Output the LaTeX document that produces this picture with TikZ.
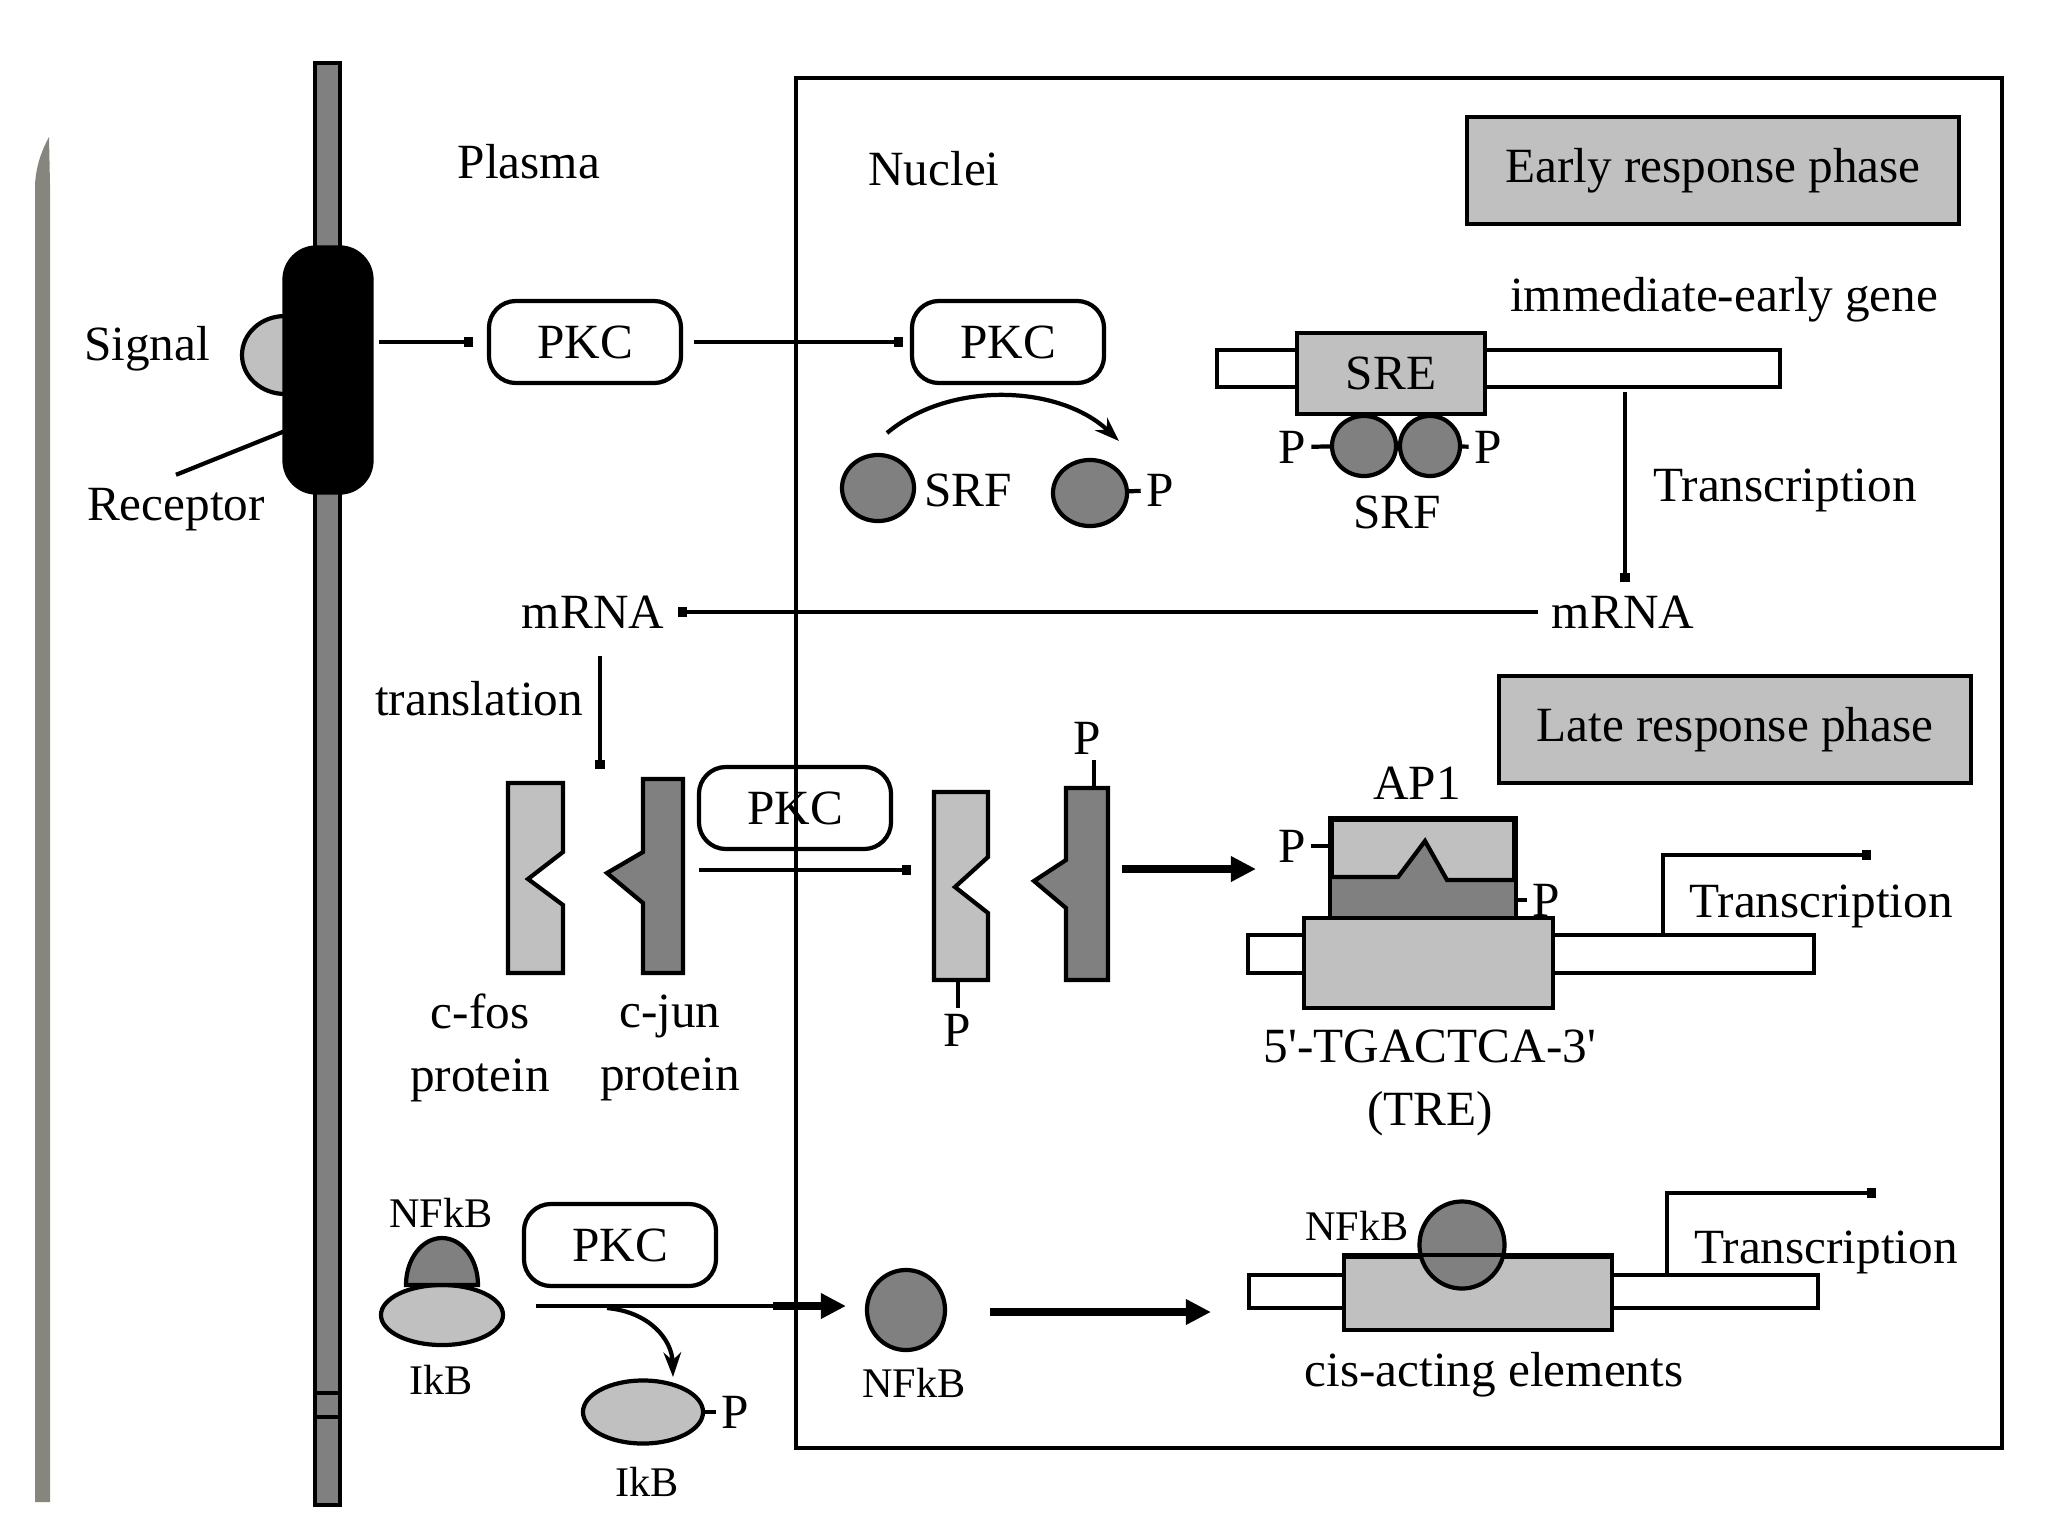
\documentclass[tikz,border=0pt]{standalone}
\usepackage{fontspec}
\setmainfont{Liberation Serif}
\usetikzlibrary{arrows.meta,shapes.geometric}
\definecolor{lgray}{HTML}{C0C0C0}
\definecolor{dgray}{HTML}{808080}
\definecolor{edgegray}{HTML}{86867F}
\begin{document}
\begin{tikzpicture}[>={Square[length=2.6pt,width=2.6pt]},x=0.01cm,y=-0.01cm,line width=1.2pt,
	every node/.style={font=\fontsize{14}{18}\selectfont},
	small/.style={font=\fontsize{12}{14}\selectfont},
	pkcbox/.style={draw,rounded corners=0.27cm,minimum width=1.92cm,minimum height=0.82cm},
	pale/.style={draw,fill=lgray},
	dark/.style={draw,fill=dgray},
	ptag/.style={inner sep=1pt},
	fat/.style={line width=2.5pt,-{Triangle[length=0.25cm,width=0.24cm]}},
	bent/.style={-{Stealth[length=7pt,width=5pt]}}]
		\useasboundingbox (0,0) rectangle (2048,1536);
		\fill[edgegray] (35,1502) -- (35,185) .. controls (36,165) and (42,150) .. (49,137) -- (50,185) -- (50,1502) -- cycle;
		\draw[fill=dgray] (315,63) rectangle (340,1505);
		\draw (315,1393) -- (340,1393) (315,1417) -- (340,1417);
		\draw[fill=lgray] (285,355) ellipse [x radius=43,y radius=39];
		\node[draw,fill=black,rounded corners=0.32cm,minimum width=0.87cm,minimum height=2.45cm] (rec) at (328,370) {};
		\node (sig) at (147,349) {Signal};
		\node (rcp) at (176,510) {Receptor};
		\coordinate (rcpin) at (285,431);
		\draw (rcp.north) -- (rcpin);
		\node (plasma) at (529,162) {Plasma};
		\node (nuclei) at (934,169) {Nuclei};
		\node[pkcbox] (pkcA) at (585,342) {PKC};
		\node[pkcbox] (pkcB) at (1008,342) {PKC};
		\draw[->,shorten <=1.5pt,shorten >=4pt] (pkcA.west -| rec.east) -- (pkcA.west);
		\draw[->,shorten <=3pt,shorten >=2pt] (pkcA) -- (pkcB);
		\coordinate (cvA) at (887,433);
		\coordinate (cvB) at (1119,441);
		\draw[bent] (cvA) .. controls (950,380) and (1060,385) .. (cvB);
		\node[dark,ellipse,minimum width=0.72cm,minimum height=0.66cm] (srfA) at (878,488) {};
		\node (srfAL) at (968,490) {SRF};
		\node[dark,ellipse,minimum width=0.74cm,minimum height=0.66cm] (srfB) at (1090,493) {};
		\node[ptag] (pB) at (1160,490) {P};
		\draw (srfB) -- (pB);
		\draw[fill=white] (1217,350) rectangle (1780,387);
		\node[pale,minimum width=1.88cm,minimum height=0.81cm] (sre) at (1391,373.5) {SRE};
		\node[dark,ellipse,minimum width=0.64cm,minimum height=0.6cm] (dmA) at (1364,446) {};
		\node[dark,ellipse,minimum width=0.6cm,minimum height=0.6cm] (dmB) at (1430,446) {};
		\node[ptag] (pC) at (1292,447) {P};
		\node[ptag] (pD) at (1488,447) {P};
		\draw (pC) -- (dmA);
		\draw (dmB) -- (pD);
		\node (srfM) at (1397,512) {SRF};
		\node (ieg) at (1724,300) {immediate-early gene};
		\node[pale,minimum width=4.92cm,minimum height=1.07cm] (early) at (1713,170.5) {Early response phase};
		\coordinate (tsA) at (1625,392);
		\node (mrnaR) at (1623,612) {mRNA};
		\node (tsL) at (1785,490) {Transcription};
		\draw[->] (tsA) -- (mrnaR.north -| tsA);
		\node (mrnaL) at (593,612) {mRNA};
		\draw[->] (mrnaR.west) -- (mrnaL.east);
		\node (trl) at (479,699) {translation};
		\coordinate (trlA) at (600,656);
		\coordinate (trlB) at (600,769);
		\draw[->] (trlA) -- (trlB);
		\draw[fill=lgray] (508,783) -- (563,783) -- (563,852) -- (528,879) -- (563,905) -- (563,973) -- (508,973) -- cycle;
		\draw[fill=dgray] (643,779) -- (683,779) -- (683,973) -- (643,973) -- (643,903) -- (607,873) -- (643,852) -- cycle;
		\node[align=center] (fosL) at (480,1048) {c-fos\\protein};
		\node[align=center] (junL) at (670,1048) {c-jun\\protein};
		\node[pkcbox] (pkcC) at (795,808) {PKC};
		\coordinate (phA) at (699,870);
		\coordinate (phB) at (911,870);
		\draw[->] (phA) -- (phB);
		\draw[fill=lgray] (934,792) -- (988,792) -- (988,857) -- (955,887) -- (988,913) -- (988,980) -- (934,980) -- cycle;
		\coordinate (pfosB) at (958,980);
		\node[ptag] (pE) at (957,1030) {P};
		\draw (pfosB) -- (pE.north -| pfosB);
		\draw[fill=dgray] (1066,788) -- (1108,788) -- (1108,980) -- (1066,980) -- (1066,908) -- (1034,881) -- (1066,860) -- cycle;
		\coordinate (pjunT) at (1094,788);
		\node[ptag] (pF) at (1087,738) {P};
		\draw (pjunT) -- (pF.south -| pjunT);
		\coordinate (apA) at (1122,869);
		\coordinate (apB) at (1256,869);
		\draw[fat] (apA) -- (apB);
		\node[pale,minimum width=4.72cm,minimum height=1.07cm] (late) at (1735,729.5) {Late response phase};
		\node (ap1) at (1417,783) {AP1};
		\node[pale,minimum width=1.82cm,minimum height=0.97cm] (apbox) at (1423,868.5) {};
		\fill[dgray] (1332,877) -- (1398,877) -- (1425,841) -- (1447,880) -- (1514,880) -- (1514,917) -- (1332,917) -- cycle;
		\draw (1332,877) -- (1398,877) -- (1425,841) -- (1447,880) -- (1514,880);
		\draw (apbox.north west) rectangle (apbox.south east);
		\node[ptag] (pG) at (1292,846) {P};
		\node[ptag] (pH) at (1546,900) {P};
		\draw (pG) -- (pG -| apbox.west);
		\draw (pH) -- (pH -| apbox.east);
		\draw[fill=white] (1248,935) rectangle (1814,973);
		\node[pale,minimum width=2.49cm,minimum height=0.9cm] (tre) at (1428.5,963) {};
		\coordinate (trA) at (1663,935);
		\coordinate (trB) at (1871,855);
		\draw[->] (trA) |- (trB);
		\node (tsM) at (1821,906) {Transcription};
		\node[align=center] (treL) at (1430,1083) {5\textquotesingle-TGACTCA-3\textquotesingle\\(TRE)};
		\node[small] (nfA) at (441,1213) {NFkB};
		\node[pale,ellipse,minimum width=1.22cm,minimum height=0.6cm] (ikA) at (442,1315) {};
		\draw[fill=dgray] (406,1285) arc[start angle=180,end angle=360,x radius=36,y radius=47] -- cycle;
		\node[small] (ikAL) at (441,1380) {IkB};
		\node[pkcbox] (pkcD) at (620,1245) {PKC};
		\coordinate (nfS) at (536,1306);
		\coordinate (nfM) at (773,1306);
		\coordinate (nfE) at (846,1306);
		\draw (nfS) -- (nfM);
		\draw[fat] (nfM) -- (nfE);
		\coordinate (ikC) at (607,1308);
		\coordinate (ikD) at (673,1377);
		\draw[bent] (ikC) .. controls (650,1312) and (672,1340) .. (ikD);
		\node[pale,ellipse,minimum width=1.2cm,minimum height=0.63cm] (ikB) at (643,1412) {};
		\node[ptag] (pI) at (735,1412) {P};
		\draw (ikB) -- (pI);
		\node[small] (ikBL) at (647,1482) {IkB};
		\node[dark,ellipse,minimum width=0.78cm,minimum height=0.8cm] (nfB) at (906,1310) {};
		\node[small] (nfBL) at (914,1383) {NFkB};
		\coordinate (ciA) at (990,1312);
		\coordinate (ciB) at (1211,1312);
		\draw[fat] (ciA) -- (ciB);
		\draw[fill=white] (1249,1275) rectangle (1818,1308);
		\node[pale,minimum width=2.68cm,minimum height=0.73cm] (cis) at (1478,1293.5) {};
		\node[dark,ellipse,minimum width=0.85cm,minimum height=0.87cm] (nfC) at (1462,1245) {};
		\draw (cis.north west) -- (cis.north east);
		\node[small] (nfCL) at (1357,1226) {NFkB};
		\coordinate (trC) at (1667,1275);
		\coordinate (trD) at (1876,1193);
		\draw[->] (trC) |- (trD);
		\node (tsN) at (1826,1252) {Transcription};
		\node (cisL) at (1494,1375) {cis-acting elements};
		\draw (796,78) rectangle (2002,1448);
		\end{tikzpicture}
\end{document}
